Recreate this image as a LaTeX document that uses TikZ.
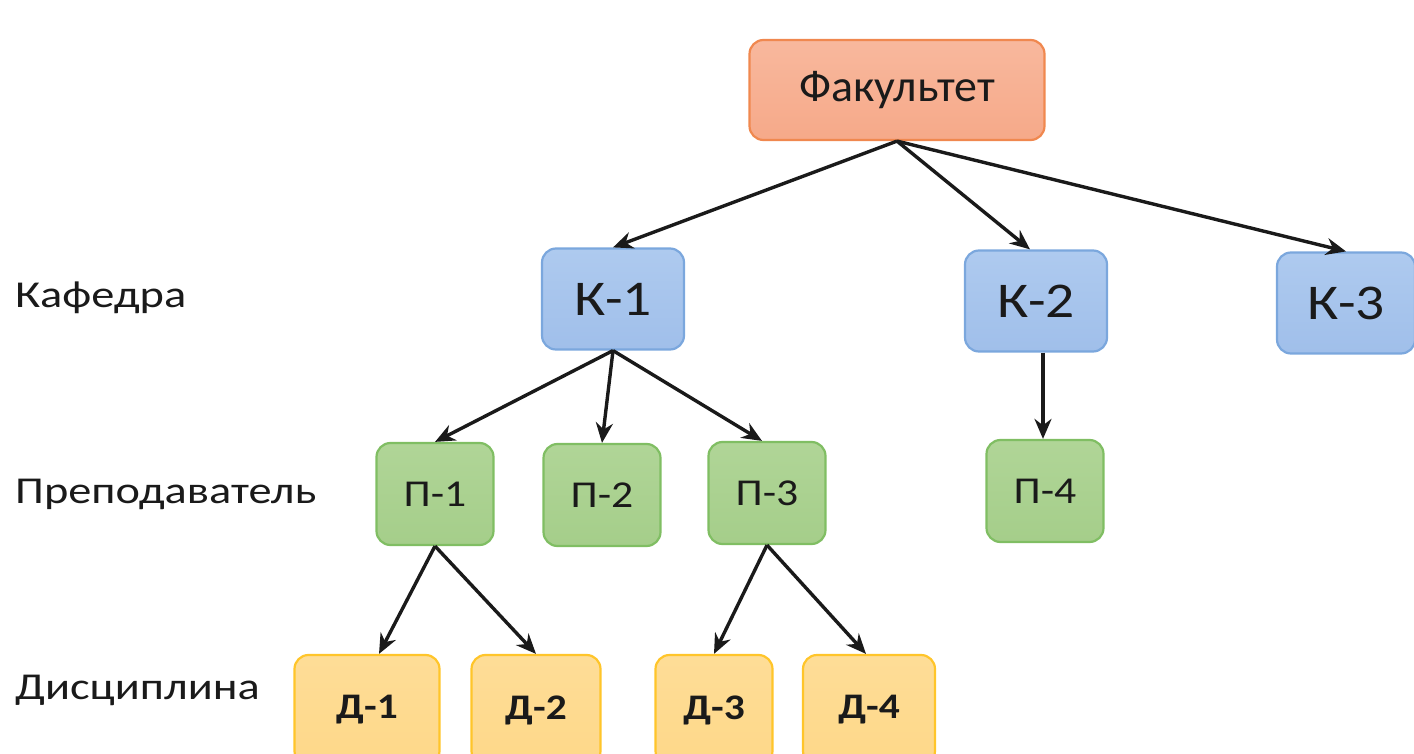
\documentclass[tikz,border=0pt]{standalone}
\usepackage{fontspec}
\setmainfont{Carlito}[FakeStretch=1.15]
\newfontfamily\facfont{Carlito}[FakeStretch=1.02]
\newfontfamily\lvlfont{Carlito}[FakeStretch=1.22]
\usetikzlibrary{arrows.meta}
\definecolor{oFill}{HTML}{F6A989}
\definecolor{oTop}{HTML}{F8B89D}
\definecolor{oLine}{HTML}{F0884F}
\definecolor{bFill}{HTML}{A0BFEA}
\definecolor{bTop}{HTML}{AECAEF}
\definecolor{bLine}{HTML}{7BA7DD}
\definecolor{gFill}{HTML}{A5CE8A}
\definecolor{gTop}{HTML}{B0D597}
\definecolor{gLine}{HTML}{80BE63}
\definecolor{yFill}{HTML}{FED889}
\definecolor{yTop}{HTML}{FEDD97}
\definecolor{yLine}{HTML}{FFC52A}
\definecolor{ink}{HTML}{1A1A1A}
\tikzset{
  box/.style={rounded corners=14pt, line width=2.2pt, inner sep=0pt, text=ink},
  fac/.style={box, draw=oLine, top color=oTop, bottom color=oFill, minimum width=295pt, minimum height=100pt, font=\facfont\fontsize{45}{54}\selectfont},
  kaf/.style={box, draw=bLine, top color=bTop, bottom color=bFill, minimum width=142pt, minimum height=101pt, font=\fontsize{50}{60}\selectfont},
  pre/.style={box, draw=gLine, top color=gTop, bottom color=gFill, minimum width=117pt, minimum height=102pt, font=\fontsize{38}{46}\selectfont},
  dis/.style={box, draw=yLine, top color=yTop, bottom color=yFill, minimum height=110pt, font=\bfseries\fontsize{36}{43}\selectfont},
  lvl/.style={anchor=west, inner sep=0pt, text=ink, font=\lvlfont\fontsize{38}{46}\selectfont},
  link/.style={draw=ink, line width=3.4pt, -{Stealth[length=20pt,width=17pt]}}
}
\begin{document}
\begin{tikzpicture}[x=1pt,y=-1pt]
\useasboundingbox (0,0) rectangle (1414,754);
\node[fac] (F) at (897,90) {Факультет};
\node[kaf] (K1) at (613,299) {К-1};
\node[kaf] (K2) at (1036,301) {К-2};
\node[kaf, minimum width=138pt] (K3) at (1346,303) {К-3};
\node[pre] (P1) at (435,494) {П-1};
\node[pre] (P2) at (602,495) {П-2};
\node[pre] (P3) at (767,493) {П-3};
\node[pre] (P4) at (1045,491) {П-4};
\node[dis, minimum width=145pt] (D1) at (367,710) {Д-1};
\node[dis, minimum width=129pt] (D2) at (536,710) {Д-2};
\node[dis, minimum width=117pt] (D3) at (714,710) {Д-3};
\node[dis, minimum width=132pt] (D4) at (869,710) {Д-4};
\node[lvl] (L1) at (15,298) {Кафедра};
\node[lvl] (L2) at (15,494) {Преподаватель};
\node[lvl] (L3) at (15,690) {Дисциплина};
\draw[link] (F.south) -- (K1.north);
\draw[link] (F.south) -- ([xshift=-6pt]K2.north);
\draw[link] (F.south) -- (K3.north);
\draw[link] (K1.south) -- (P1.north);
\draw[link] (K1.south) -- (P2.north);
\draw[link] (K1.south) -- ([xshift=-5pt]P3.north);
\draw[link] ([xshift=7pt]K2.south) -- ([xshift=-2pt]P4.north);
\draw[link] (P1.south) -- ([xshift=12pt]D1.north);
\draw[link] (P1.south) -- (D2.north);
\draw[link] (P3.south) -- (D3.north);
\draw[link] (P3.south) -- ([xshift=-3pt]D4.north);
\end{tikzpicture}
\end{document}
